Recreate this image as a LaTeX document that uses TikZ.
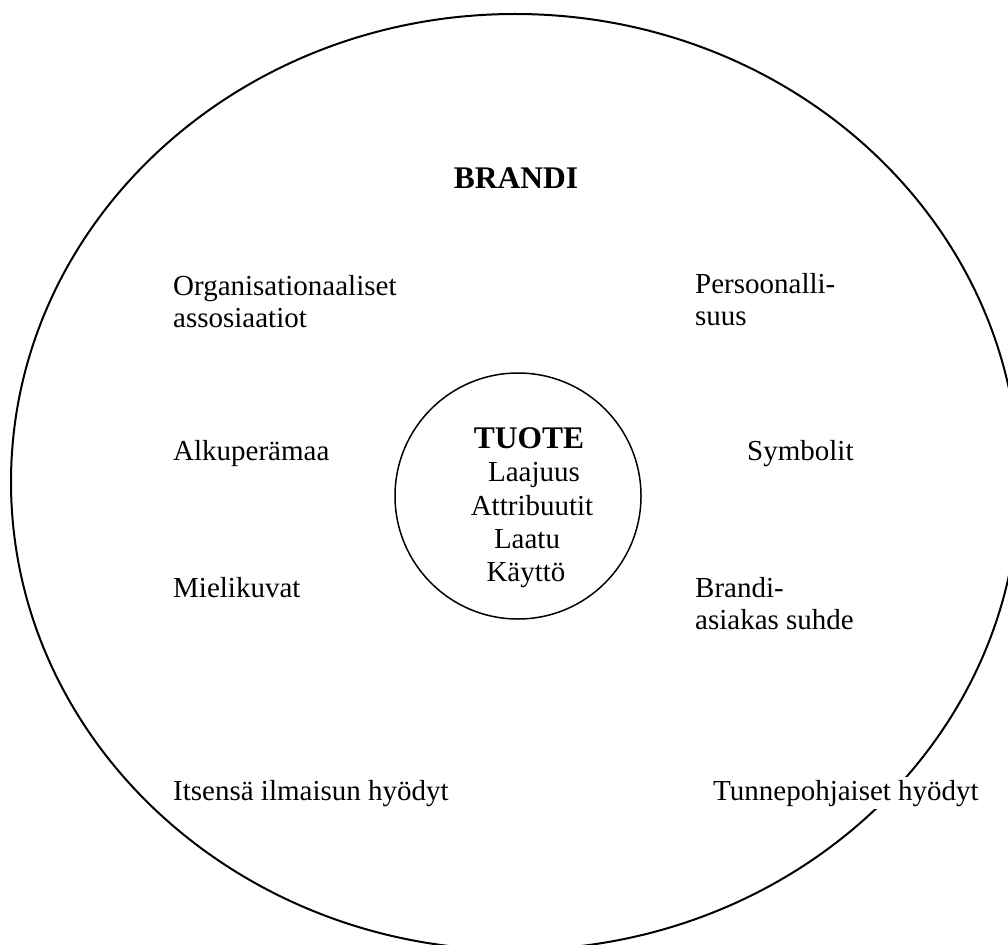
\documentclass[tikz,border=0pt]{standalone}
\usepackage{fontspec}
\setmainfont{Liberation Serif}
\begin{document}
\begin{tikzpicture}[x=1pt,y=-1pt,
  lbl/.style={anchor=base west,inner sep=0pt,font=\fontsize{29}{32}\selectfont},
  mid/.style={anchor=base,inner sep=0pt,font=\fontsize{29}{32}\selectfont},
  head/.style={anchor=base,inner sep=0pt,font=\fontsize{31.5}{34}\selectfont\bfseries},
  outer/.style={draw=black,line width=2pt},
  inner/.style={draw=black,line width=1.5pt}]
\useasboundingbox (0,0) rectangle (1008,944);
\begin{scope}
\clip (0,0) rectangle (1008,944);
% brand ellipse
\draw[outer] (515,482) ellipse [x radius=504, y radius=468];
\end{scope}
% product circle
\node[inner,circle,minimum size=246pt,inner sep=0pt] (tuote) at (518,496) {};

% brand heading
\node[head] (brandi) at (516,189) {BRANDI};

% product core
\node[head] (t0) at (529,448) {TUOTE};
\node[mid] (t1) at (534,481) {Laajuus};
\node[mid] (t2) at (532,515) {Attribuutit};
\node[mid] (t3) at (527,548) {Laatu};
\node[mid] (t4) at (526,581) {Käyttö};

% brand associations, left
\node[lbl] (org1) at (173,295) {Organisationaaliset};
\node[lbl] (org2) at (173,327) {assosiaatiot};
\node[lbl] (alku) at (173,460) {Alkuperämaa};
\node[lbl] (miel) at (173,597) {Mielikuvat};
\node[lbl] (its) at (173,800) {Itsensä ilmaisun hyödyt};

% brand associations, right
\node[lbl] (pers1) at (695,293) {Persoonalli-};
\node[lbl] (pers2) at (695,325) {suus};
\node[lbl] (symb) at (747,460) {Symbolit};
\node[lbl] (br1) at (695,597) {Brandi-};
\node[lbl] (br2) at (695,629) {asiakas suhde};
% white box keeps the ellipse line from running through the text
\node[lbl,fill=white,inner sep=3pt] (tun) at (710,800) {Tunnepohjaiset hyödyt};
\end{tikzpicture}
\end{document}
